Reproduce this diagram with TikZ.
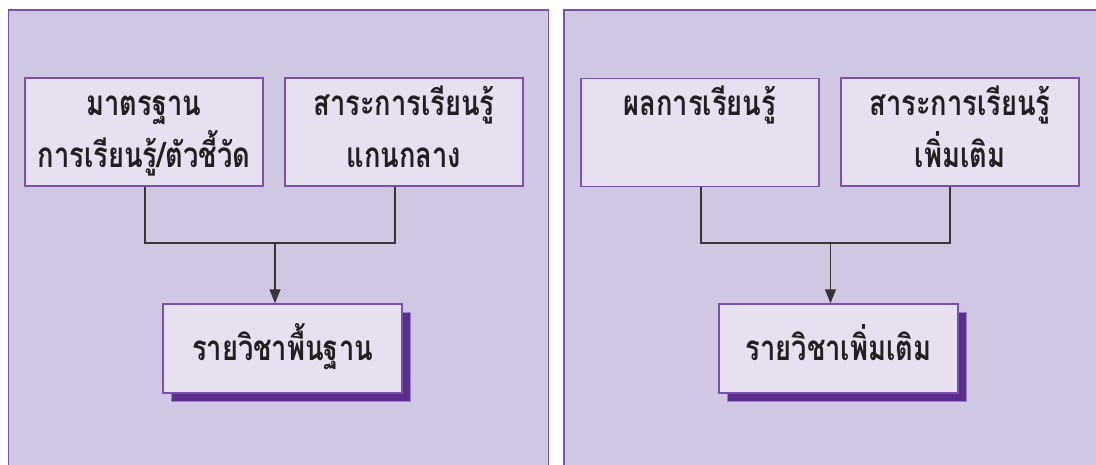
\documentclass[tikz,border=0pt]{standalone}
\usepackage{fontspec}
\newfontfamily\thaifont[Script=Thai,FakeStretch=0.78]{Loma}
\usetikzlibrary{arrows.meta}
\definecolor{panelfill}{HTML}{D0C8E3}
\definecolor{panelline}{HTML}{7A52AE}
\definecolor{boxfill}{HTML}{E6E0F1}
\definecolor{shadowc}{HTML}{5A2D8F}
\definecolor{shadowline}{HTML}{9A80C6}
\definecolor{inkc}{HTML}{231F20}
\begin{document}
\begin{tikzpicture}[x=1pt,y=-1pt,
  panel/.style={draw=panelline,line width=1.5pt},
  box/.style={draw=panelline,fill=boxfill,line width=1.4pt,inner sep=0pt,minimum width=238pt,minimum height=108pt},
  bigbox/.style={box,minimum width=239pt,minimum height=89pt},
  shadowbox/.style={draw=shadowline,fill=shadowc,line width=0.8pt,inner sep=0pt,minimum width=239pt,minimum height=89pt},
  lbl/.style={anchor=base,text=inkc,inner sep=0pt,font=\thaifont\bfseries\fontsize{35}{42}\selectfont},
  conn/.style={draw=inkc!90,line width=1.3pt},
  arr/.style={conn,-{Triangle[width=11pt,length=14pt]}}]
\useasboundingbox (0,0) rectangle (1096,464);
% panels
\fill[panelfill] (8.5,10) rectangle (548.5,470);
\draw[panel] (8.5,470) -- (8.5,10) -- (548.5,10) -- (548.5,470);
\fill[panelfill] (564,10) rectangle (1100,470);
\draw[panel] (564,470) -- (564,10) -- (1100,10);
% left boxes
\node[box] (L1) at (144,132) {};
\node[box] (L2) at (404,132) {};
\node[shadowbox] (L3s) at (290.5,356.5) {};
\node[bigbox] (L3) at (282.5,348.5) {};
% right boxes
\node[box] (R1) at (700,132.5) {};
\node[box] (R2) at (960,132) {};
\node[shadowbox] (R3s) at (846.5,356.5) {};
\node[bigbox] (R3) at (838.5,348.5) {};
% labels
\node[lbl] (t1a) at (144,115) {มาตรฐาน};
\node[lbl] (t1b) at (144,167) {การเรียนรู้/ตัวชี้วัด};
\node[lbl] (t2a) at (404,115) {สาระการเรียนรู้};
\node[lbl] (t2b) at (404,167) {แกนกลาง};
\node[lbl] (t3) at (282.5,360) {รายวิชาพื้นฐาน};
\node[lbl] (t4a) at (700,115) {ผลการเรียนรู้};
\node[lbl] (t5a) at (960,115) {สาระการเรียนรู้};
\node[lbl] (t5b) at (960,167) {เพิ่มเติม};
\node[lbl] (t6) at (838.5,360) {รายวิชาเพิ่มเติม};
% connectors
\coordinate (LJ) at (275,243);
\draw[conn] ([xshift=1pt]L1.south) |- (LJ) -| ([xshift=-9pt]L2.south);
\draw[arr] (LJ) -- (LJ |- L3.north);
\coordinate (RJ) at (830.5,243);
\draw[conn] ([xshift=1pt]R1.south) |- (RJ) -| ([xshift=-10pt]R2.south);
\draw[arr] (RJ) -- (RJ |- R3.north);
\end{tikzpicture}
\end{document}
